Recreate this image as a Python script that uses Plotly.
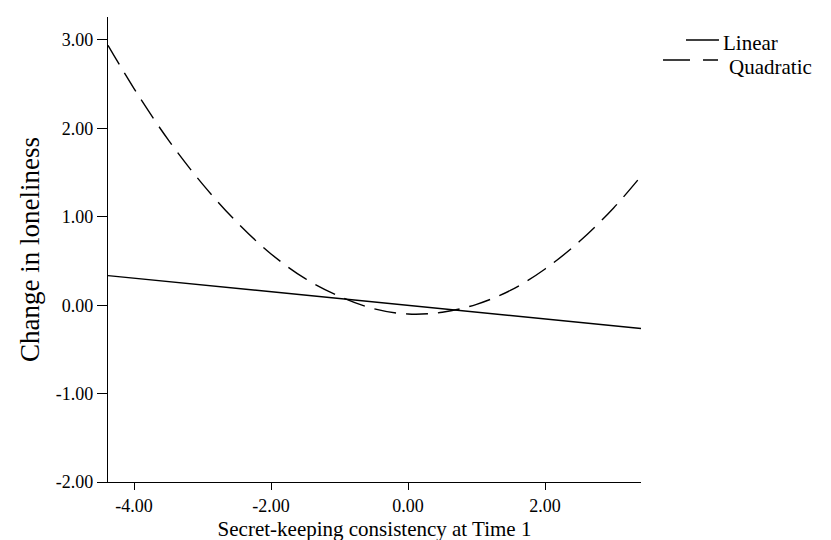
import plotly.graph_objects as go

# Data
linear_x = [-4.38, 3.40]
linear_y = [0.335, -0.263]

quad_x = [-4.38, -4.0, -3.5, -3.0, -2.5, -2.0, -1.5, -1.0, -0.5, 0.0, 0.5, 1.0, 1.5, 2.0, 2.5, 3.0, 3.40]
quad_y = [2.94, 2.45, 1.87, 1.37, 0.94, 0.58, 0.30, 0.10, -0.04, -0.10, -0.08, 0.01, 0.17, 0.41, 0.72, 1.10, 1.46]

x_ticks = [-4, -2, 0, 2]
x_tick_labels = ["-4.00", "-2.00", "0.00", "2.00"]
y_ticks = [-2, -1, 0, 1, 2, 3]
y_tick_labels = ["-2.00", "-1.00", "0.00", "1.00", "2.00", "3.00"]

legend_names = ["Linear", "Quadratic"]

FONT = "Liberation Serif, Times New Roman, serif"
QUAD_DASH = "22px,10px"

fig = go.Figure()
fig.add_trace(go.Scatter(x=linear_x, y=linear_y, mode="lines", name=legend_names[0],
                         line=dict(color="black", width=1.4)))
fig.add_trace(go.Scatter(x=quad_x, y=quad_y, mode="lines", name=legend_names[1],
                         line=dict(color="black", width=1.4, dash=QUAD_DASH, shape="spline")))

# Hand-drawn legend in the SPSS style (paper coordinates)
fig.add_shape(type="line", xref="paper", yref="paper", x0=1.0844, x1=1.1463,
              y0=0.9506, y1=0.9506, line=dict(color="black", width=1.4))
fig.add_shape(type="line", xref="paper", yref="paper", x0=1.0413, x1=1.1445,
              y0=0.9076, y1=0.9076, line=dict(color="black", width=1.4, dash="27px,13px"))
fig.add_annotation(text=legend_names[0], xref="paper", yref="paper", x=1.1520, y=0.9441,
                   xanchor="left", yanchor="middle", showarrow=False, borderpad=0,
                   font=dict(size=21, family=FONT, color="black"))
fig.add_annotation(text=legend_names[1], xref="paper", yref="paper", x=1.1633, y=0.8926,
                   xanchor="left", yanchor="middle", showarrow=False, borderpad=0,
                   font=dict(size=21, family=FONT, color="black"))

fig.update_layout(
    width=831, height=540,
    margin=dict(l=100, r=198, t=9, b=66),
    plot_bgcolor="white", paper_bgcolor="white",
    font=dict(family=FONT, color="black", size=18),
    showlegend=False,
    xaxis=dict(range=[-4.38, 3.40], tickvals=x_ticks, ticktext=x_tick_labels,
               showgrid=False, zeroline=False, showline=True, linecolor="black",
               linewidth=1.2, ticks="outside", ticklen=7, tickcolor="black",
               tickfont=dict(size=18),
               title=dict(text="Secret-keeping consistency at Time 1",
                          font=dict(size=21), standoff=6)),
    yaxis=dict(range=[-2, 3.26], tickvals=y_ticks, ticktext=y_tick_labels,
               showgrid=False, zeroline=False, showline=True, linecolor="black",
               linewidth=1.2, ticks="outside", ticklen=10, tickcolor="black",
               tickfont=dict(size=18),
               title=dict(text="Change in loneliness", font=dict(size=27), standoff=8)),
)

fig.write_html("out.html")
